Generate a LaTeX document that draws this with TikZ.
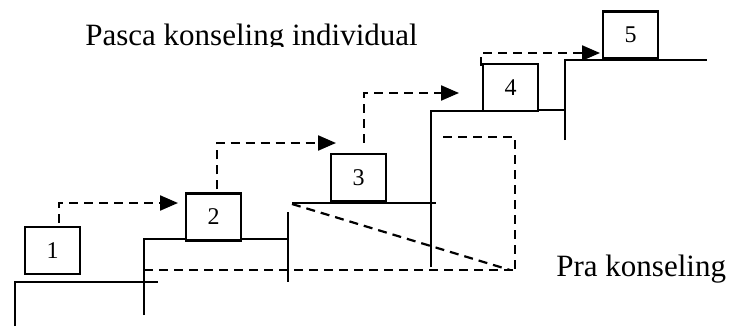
\documentclass[tikz,border=0pt]{standalone}
\usepackage{fontspec}
\setmainfont{Liberation Serif}
\usetikzlibrary{arrows.meta}
\begin{document}
\begin{tikzpicture}[x=0.5pt,y=-0.5pt,
 solidln/.style={line width=1.1pt},
 dashln/.style={line width=1.1pt,dash pattern=on 4.5pt off 3pt},
 darrow/.style={dashln,-{Triangle[length=9pt,width=7.5pt]}},
 numbox/.style={draw,line width=1.1pt,fill=white,minimum width=27.5pt,minimum height=23.5pt,inner sep=0pt,font=\fontsize{12}{14}\selectfont},
 lbl/.style={font=\fontsize{15.5}{18}\selectfont,inner sep=0pt,anchor=base west}]
\useasboundingbox (0,0) rectangle (732,326);
% stair lines
\draw[solidln] (15,326) -- (15,282) -- (158,282);
\draw[solidln] (144,315) -- (144,239) -- (288,239);
\draw[solidln] (288,212) -- (288,282);
\draw[solidln] (292,203) -- (436,203);
\draw[solidln] (431,267) -- (431,111) -- (482,111);
\draw[solidln] (539,110) -- (565,110);
\draw[solidln] (565,140) -- (565,60) -- (707,60);
% dashed guide lines
\draw[dashln] (144,270) -- (515,270);
\draw[dashln] (292,204) -- (510,270);
\draw[dashln] (443,137) -- (515,137) -- (515,272);
% boxes
\node[numbox] (b1) at (52.5,250.5) {1};
\node[numbox] (b2) at (213.5,217) {2};
\node[numbox] (b3) at (358.5,177.5) {3};
\node[numbox] (b4) at (510.5,87.5) {4};
\node[numbox] (b5) at (630.5,35) {5};
% arrow ends
\coordinate (e1) at (178,203);
\coordinate (e2) at (336,143);
\coordinate (e3) at (459,93);
\coordinate (e4) at (600,53);
\draw[darrow] ([shift={(6.5,-3)}]b1.north) |- (e1);
\draw[darrow] ([shift={(3.5,-3)}]b2.north) |- (e2);
\draw[darrow] ([shift={(5.5,-10)}]b3.north) |- (e3);
\draw[darrow] ([shift={(-29.5,3)}]b4.north) |- (e4);
% labels
\begin{scope}
\clip (0,0) rectangle (732,47);
\node[lbl] (pasca) at (85,46) {Pasca konseling individual};
\end{scope}
\node[lbl] (pra) at (556,276) {Pra konseling};
\end{tikzpicture}
\end{document}
